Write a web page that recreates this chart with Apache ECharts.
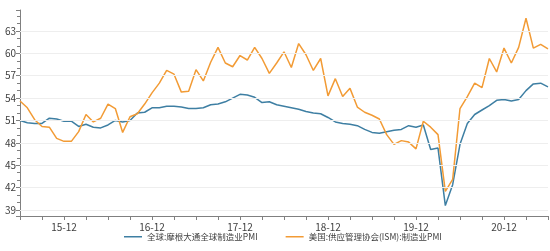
<!DOCTYPE html>
<html>
<head>
<meta charset="utf-8">
<script src="https://cdn.jsdelivr.net/npm/echarts@6/dist/echarts.min.js"></script>
<style>html,body{margin:0;padding:0;background:#fff}#c{width:550px;height:251px}</style>
</head>
<body>
<div id="c"></div>
<script>
const months = [
  '2015-06','2015-07','2015-08','2015-09','2015-10','2015-11','2015-12',
  '2016-01','2016-02','2016-03','2016-04','2016-05','2016-06','2016-07','2016-08','2016-09','2016-10','2016-11','2016-12',
  '2017-01','2017-02','2017-03','2017-04','2017-05','2017-06','2017-07','2017-08','2017-09','2017-10','2017-11','2017-12',
  '2018-01','2018-02','2018-03','2018-04','2018-05','2018-06','2018-07','2018-08','2018-09','2018-10','2018-11','2018-12',
  '2019-01','2019-02','2019-03','2019-04','2019-05','2019-06','2019-07','2019-08','2019-09','2019-10','2019-11','2019-12',
  '2020-01','2020-02','2020-03','2020-04','2020-05','2020-06','2020-07','2020-08','2020-09','2020-10','2020-11','2020-12',
  '2021-01','2021-02','2021-03','2021-04','2021-05','2021-06'
];
const globalPMI = [
  51.0,50.7,50.6,50.6,51.3,51.2,50.9,
  50.9,50.2,50.5,50.1,50.0,50.4,51.0,50.8,51.0,52.0,52.1,52.7,
  52.7,52.9,52.9,52.8,52.6,52.6,52.7,53.1,53.2,53.5,54.0,54.5,
  54.4,54.1,53.4,53.5,53.1,52.9,52.7,52.5,52.2,52.0,51.9,51.4,
  50.8,50.6,50.5,50.3,49.8,49.4,49.3,49.5,49.7,49.8,50.3,50.1,
  50.4,47.1,47.3,39.6,42.4,47.8,50.6,51.8,52.4,53.0,53.7,53.8,
  53.6,53.8,55.0,55.9,56.0,55.5
];
const ismPMI = [
  53.6,52.7,51.1,50.2,50.1,48.6,48.2,
  48.2,49.5,51.8,50.8,51.3,53.2,52.6,49.4,51.5,51.9,53.2,54.7,
  56.0,57.7,57.2,54.8,54.9,57.8,56.3,58.8,60.8,58.7,58.2,59.7,
  59.1,60.8,59.3,57.3,58.7,60.2,58.1,61.3,59.8,57.7,59.3,54.3,
  56.6,54.2,55.3,52.8,52.1,51.7,51.2,49.1,47.8,48.3,48.1,47.2,
  50.9,50.1,49.1,41.5,43.1,52.6,54.2,56.0,55.4,59.3,57.5,60.7,
  58.7,60.8,64.7,60.7,61.2,60.6
];
const seriesNames = ['全球:摩根大通全球制造业PMI', '美国:供应管理协会(ISM):制造业PMI'];
const yTickValues = [39, 42, 45, 48, 51, 54, 57, 60, 63];

const chart = echarts.init(document.getElementById('c'), null, {renderer: 'canvas'});
chart.setOption({
  animation: false,
  backgroundColor: '#ffffff',
  grid: {left: 20, right: 2, top: 10, bottom: 35, containLabel: false},
  legend: {
    bottom: 5, left: 119,
    icon: 'rect',
    itemWidth: 18, itemHeight: 1.5, itemGap: 28,
    textStyle: {fontSize: 8.5, color: '#404040', fontFamily: 'Noto Sans CJK SC'},
    data: seriesNames
  },
  xAxis: {
    type: 'category',
    data: months,
    boundaryGap: false,
    axisLine: {lineStyle: {color: '#808080', width: 1}},
    axisTick: {show: true, length: 4, interval: (i) => i % 3 === 0, lineStyle: {color: '#808080'}},
    axisLabel: {
      interval: (i) => i % 12 === 6,
      formatter: (v) => v.slice(2, 4) + '-' + v.slice(5, 7),
      fontSize: 10, color: '#404040', fontFamily: 'Noto Sans CJK SC', margin: 6
    },
    splitLine: {show: false}
  },
  yAxis: {
    type: 'value',
    min: 38.2, max: 65.8, splitNumber: 9,
    axisLine: {show: true, lineStyle: {color: '#808080', width: 1}},
    axisTick: {show: true, length: 4, lineStyle: {color: '#808080'}},
    minorTick: {show: true, splitNumber: 3, length: 3, lineStyle: {color: '#808080'}},
    axisLabel: {
      showMinLabel: false, showMaxLabel: false,
      formatter: (v) => yTickValues.includes(Math.round(v * 10) / 10) ? String(Math.round(v)) : '',
      fontSize: 10, color: '#404040', fontFamily: 'Noto Sans CJK SC', margin: 4
    },
    splitLine: {show: false}
  },
  series: [
    {name: 'grid', type: 'line', data: [], z: 1, silent: true,
     markLine: {silent: true, symbol: 'none', label: {show: false}, animation: false,
       lineStyle: {color: '#eeeeee', width: 1, type: 'solid'},
       data: yTickValues.map(v => ({yAxis: v}))}},
    {name: seriesNames[0], type: 'line', data: globalPMI, symbol: 'none', z: 3,
     lineStyle: {color: '#3e7fa3', width: 1.5}, itemStyle: {color: '#3e7fa3'}},
    {name: seriesNames[1], type: 'line', data: ismPMI, symbol: 'none', z: 3,
     lineStyle: {color: '#f29b35', width: 1.5}, itemStyle: {color: '#f29b35'}}
  ]
});
</script>
</body>
</html>
